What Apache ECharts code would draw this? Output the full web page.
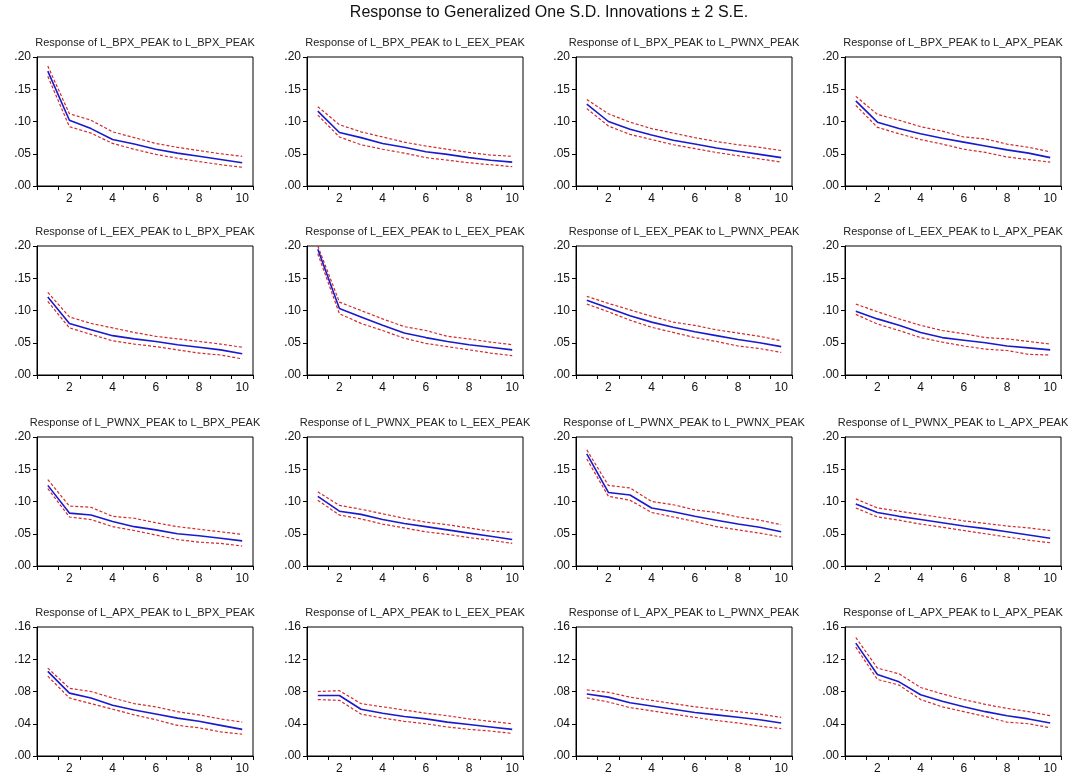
<!DOCTYPE html>
<html>
<head>
<meta charset="utf-8">
<script src="https://cdn.jsdelivr.net/npm/echarts@6/dist/echarts.min.js"></script>
<style>
html,body{margin:0;padding:0;background:#fff;}
#chart{width:1079px;height:780px;}
</style>
</head>
<body>
<div id="chart"></div>
<script>
// ---------- data ----------
const mainTitle = 'Response to Generalized One S.D. Innovations \u00b1 2 S.E.';
const horizons = ['1','2','3','4','5','6','7','8','9','10'];
const panelTitles = [
  'Response of L_BPX_PEAK to L_BPX_PEAK', 'Response of L_BPX_PEAK to L_EEX_PEAK', 'Response of L_BPX_PEAK to L_PWNX_PEAK', 'Response of L_BPX_PEAK to L_APX_PEAK',
  'Response of L_EEX_PEAK to L_BPX_PEAK', 'Response of L_EEX_PEAK to L_EEX_PEAK', 'Response of L_EEX_PEAK to L_PWNX_PEAK', 'Response of L_EEX_PEAK to L_APX_PEAK',
  'Response of L_PWNX_PEAK to L_BPX_PEAK', 'Response of L_PWNX_PEAK to L_EEX_PEAK', 'Response of L_PWNX_PEAK to L_PWNX_PEAK', 'Response of L_PWNX_PEAK to L_APX_PEAK',
  'Response of L_APX_PEAK to L_BPX_PEAK', 'Response of L_APX_PEAK to L_EEX_PEAK', 'Response of L_APX_PEAK to L_PWNX_PEAK', 'Response of L_APX_PEAK to L_APX_PEAK'
];
const rowYMax  = [0.20, 0.20, 0.20, 0.16];
const rowYStep = [0.05, 0.05, 0.05, 0.04];

// row 1: L_BPX_PEAK
const mid_BPX_BPX = [.178, .102, .089, .072, .065, .057, .051, .046, .041, .036];
const hi_BPX_BPX  = [.186, .112, .102, .084, .075, .066, .060, .055, .050, .046];
const lo_BPX_BPX  = [.170, .092, .082, .066, .057, .049, .043, .038, .033, .029];

const mid_BPX_EEX = [.116, .083, .075, .066, .060, .053, .049, .044, .040, .037];
const hi_BPX_EEX  = [.123, .095, .084, .076, .068, .062, .057, .052, .048, .046];
const lo_BPX_EEX  = [.110, .076, .064, .057, .051, .044, .040, .036, .033, .030];

const mid_BPX_PWNX = [.127, .100, .088, .079, .071, .065, .059, .054, .049, .044];
const hi_BPX_PWNX  = [.134, .112, .099, .089, .082, .075, .069, .064, .060, .055];
const lo_BPX_PWNX  = [.120, .093, .080, .072, .064, .058, .052, .047, .042, .037];

const mid_BPX_APX = [.132, .099, .089, .081, .074, .068, .062, .056, .051, .044];
const hi_BPX_APX  = [.139, .111, .102, .092, .085, .076, .073, .065, .060, .053];
const lo_BPX_APX  = [.125, .091, .081, .072, .065, .057, .052, .045, .041, .037];

// row 2: L_EEX_PEAK
const mid_EEX_BPX = [.121, .080, .070, .061, .056, .052, .047, .043, .039, .033];
const hi_EEX_BPX  = [.128, .090, .080, .073, .066, .060, .056, .052, .048, .043];
const lo_EEX_BPX  = [.114, .073, .063, .053, .048, .044, .039, .034, .031, .025];

const mid_EEX_EEX = [.195, .103, .090, .077, .065, .058, .052, .047, .043, .039];
const hi_EEX_EEX  = [.200, .113, .100, .087, .075, .069, .060, .056, .051, .047];
const lo_EEX_EEX  = [.188, .095, .080, .069, .057, .049, .044, .039, .034, .030];

const mid_EEX_PWNX = [.116, .104, .092, .082, .074, .067, .061, .055, .050, .044];
const hi_EEX_PWNX  = [.122, .111, .101, .091, .082, .077, .070, .065, .060, .053];
const lo_EEX_PWNX  = [.110, .098, .085, .074, .066, .058, .052, .045, .041, .035];

const mid_EEX_APX = [.099, .087, .077, .066, .058, .054, .050, .045, .042, .039];
const hi_EEX_APX  = [.110, .098, .087, .077, .069, .064, .058, .056, .052, .048];
const lo_EEX_APX  = [.094, .079, .069, .058, .051, .045, .040, .038, .032, .031];

// row 3: L_PWNX_PEAK
const mid_PWNX_BPX = [.125, .082, .079, .069, .061, .056, .050, .047, .043, .039];
const hi_PWNX_BPX  = [.134, .093, .091, .077, .074, .067, .061, .057, .053, .049];
const lo_PWNX_BPX  = [.120, .076, .072, .061, .055, .048, .041, .037, .035, .031];

const mid_PWNX_EEX = [.108, .085, .080, .072, .066, .061, .056, .051, .046, .041];
const hi_PWNX_EEX  = [.115, .094, .088, .081, .074, .068, .064, .059, .054, .052];
const lo_PWNX_EEX  = [.102, .079, .073, .065, .059, .053, .049, .044, .040, .035];

const mid_PWNX_PWNX = [.174, .114, .110, .090, .084, .077, .071, .065, .060, .053];
const hi_PWNX_PWNX  = [.180, .125, .121, .100, .095, .087, .083, .076, .071, .064];
const lo_PWNX_PWNX  = [.166, .108, .102, .083, .076, .069, .061, .056, .051, .045];

const mid_PWNX_APX = [.096, .083, .077, .072, .067, .062, .058, .053, .048, .043];
const hi_PWNX_APX  = [.104, .090, .085, .080, .075, .070, .066, .062, .059, .055];
const lo_PWNX_APX  = [.090, .076, .071, .065, .060, .055, .050, .045, .040, .036];

// row 4: L_APX_PEAK
const mid_APX_BPX = [.105, .078, .072, .063, .057, .052, .047, .043, .038, .033];
const hi_APX_BPX  = [.109, .084, .080, .072, .065, .061, .055, .051, .046, .042];
const lo_APX_BPX  = [.099, .072, .065, .058, .051, .045, .038, .035, .030, .027];

const mid_APX_EEX = [.075, .075, .058, .053, .049, .046, .042, .039, .036, .033];
const hi_APX_EEX  = [.080, .081, .065, .061, .057, .053, .050, .046, .043, .040];
const lo_APX_EEX  = [.070, .069, .052, .047, .043, .040, .036, .033, .031, .028];

const mid_APX_PWNX = [.077, .073, .066, .062, .058, .054, .051, .048, .045, .041];
const hi_APX_PWNX  = [.082, .079, .073, .069, .065, .061, .058, .055, .052, .048];
const lo_APX_PWNX  = [.072, .067, .060, .056, .052, .048, .044, .041, .037, .034];

const mid_APX_APX = [.140, .101, .092, .076, .068, .061, .055, .050, .046, .041];
const hi_APX_APX  = [.147, .109, .102, .085, .077, .070, .064, .059, .055, .050];
const lo_APX_APX  = [.135, .095, .088, .070, .061, .055, .049, .042, .040, .035];

const panelMid = [
  mid_BPX_BPX, mid_BPX_EEX, mid_BPX_PWNX, mid_BPX_APX,
  mid_EEX_BPX, mid_EEX_EEX, mid_EEX_PWNX, mid_EEX_APX,
  mid_PWNX_BPX, mid_PWNX_EEX, mid_PWNX_PWNX, mid_PWNX_APX,
  mid_APX_BPX, mid_APX_EEX, mid_APX_PWNX, mid_APX_APX
];
const panelHi = [
  hi_BPX_BPX, hi_BPX_EEX, hi_BPX_PWNX, hi_BPX_APX,
  hi_EEX_BPX, hi_EEX_EEX, hi_EEX_PWNX, hi_EEX_APX,
  hi_PWNX_BPX, hi_PWNX_EEX, hi_PWNX_PWNX, hi_PWNX_APX,
  hi_APX_BPX, hi_APX_EEX, hi_APX_PWNX, hi_APX_APX
];
const panelLo = [
  lo_BPX_BPX, lo_BPX_EEX, lo_BPX_PWNX, lo_BPX_APX,
  lo_EEX_BPX, lo_EEX_EEX, lo_EEX_PWNX, lo_EEX_APX,
  lo_PWNX_BPX, lo_PWNX_EEX, lo_PWNX_PWNX, lo_PWNX_APX,
  lo_APX_BPX, lo_APX_EEX, lo_APX_PWNX, lo_APX_APX
];

// ---------- layout ----------
const FONT = '"Liberation Sans", Arial, sans-serif';
const colLeft = [37, 307, 576, 845];
const rowTop = [57, 246, 437, 627];
const boxW = 216, boxH = 129;
const blue = '#1a1acc', red = '#d42a2a';

const grids = [], xAxes = [], yAxes = [], series = [];
const titles = [{
  text: mainTitle, left: 549, top: 5, padding: 0, textAlign: 'center',
  textStyle: {fontSize: 16, fontWeight: 'normal', fontFamily: FONT, color: '#111'}
}];

for (let i = 0; i < 16; i++) {
  const r = Math.floor(i / 4), c = i % 4;
  grids.push({left: colLeft[c], top: rowTop[r], width: boxW, height: boxH,
    show: true, borderColor: '#000', borderWidth: 1, backgroundColor: '#fff'});
  xAxes.push({
    type: 'category', gridIndex: i, data: horizons, boundaryGap: true,
    axisLine: {show: true, lineStyle: {color: '#000', width: 1}},
    axisTick: {show: true, interval: 0, length: 4, lineStyle: {color: '#000'}},
    axisLabel: {interval: (idx) => idx % 2 === 1, fontSize: 12, margin: 7, color: '#111', fontFamily: FONT},
    splitLine: {show: false}
  });
  yAxes.push({
    type: 'value', gridIndex: i, min: 0, max: rowYMax[r], interval: rowYStep[r],
    axisLine: {show: true, lineStyle: {color: '#000', width: 1}},
    axisTick: {show: true, length: 4, lineStyle: {color: '#000'}},
    axisLabel: {formatter: v => v.toFixed(2).replace(/^0/, ''), fontSize: 12, margin: 6, color: '#111', fontFamily: FONT},
    splitLine: {show: false}
  });
  titles.push({
    text: panelTitles[i], left: colLeft[c] + boxW / 2, top: 37, padding: 0, textAlign: 'center',
    textStyle: {fontSize: 11, fontWeight: 'normal', fontFamily: FONT, color: '#222'}
  });
  titles[titles.length - 1].top = rowTop[r] - 20;
  const common = {type: 'line', xAxisIndex: i, yAxisIndex: i, symbol: 'none', silent: true, animation: false};
  series.push(Object.assign({}, common, {data: panelHi[i], lineStyle: {color: red, width: 1.2, type: [3, 2]}}));
  series.push(Object.assign({}, common, {data: panelLo[i], lineStyle: {color: red, width: 1.2, type: [3, 2]}}));
  series.push(Object.assign({}, common, {data: panelMid[i], lineStyle: {color: blue, width: 1.6}}));
}

const chart = echarts.init(document.getElementById('chart'), null, {renderer: 'canvas'});
chart.setOption({
  backgroundColor: '#fff',
  animation: false,
  title: titles,
  grid: grids,
  xAxis: xAxes,
  yAxis: yAxes,
  series: series
});
</script>
</body>
</html>
